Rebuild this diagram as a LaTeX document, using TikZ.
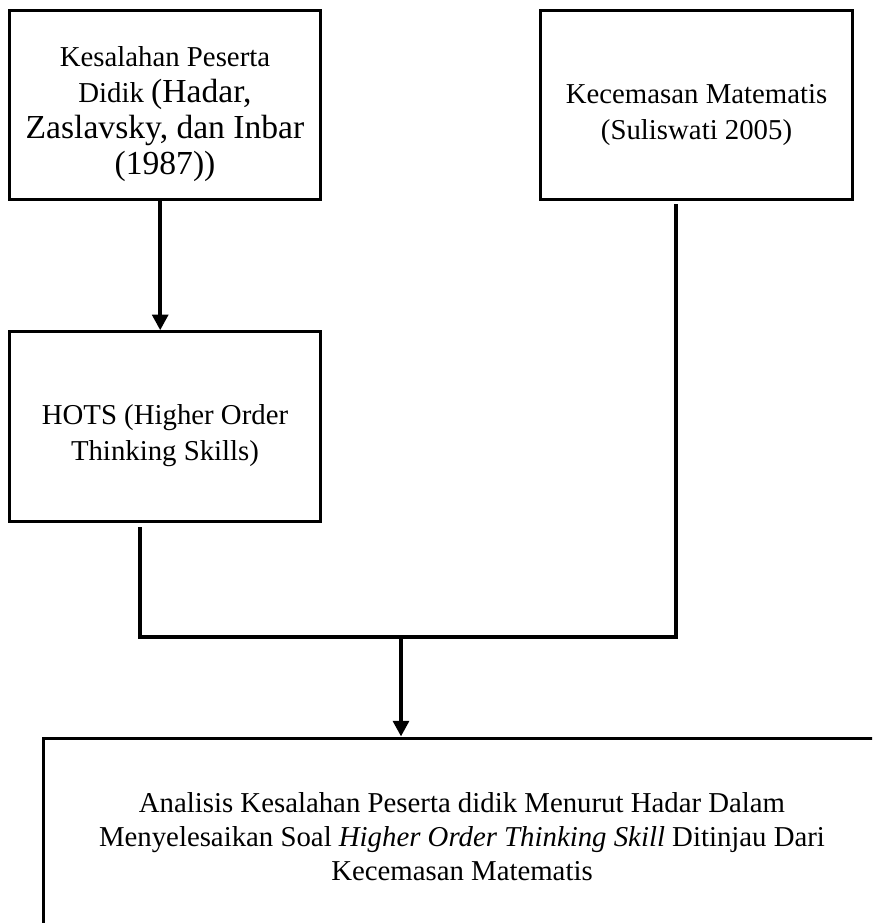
\documentclass[tikz,border=0pt]{standalone}
\usepackage{fontspec}
\setmainfont{Liberation Serif}
\usetikzlibrary{arrows.meta}
\newcommand\hadarsize{\fontsize{14}{15}\selectfont}
\newcommand\topgap{\rule{0pt}{16pt}}

\begin{document}
\begin{tikzpicture}[x=0.4167pt, y=-0.4167pt, node distance=2cm,
                    box/.style={rectangle,draw,line width=1.25pt,align=center,inner sep=0pt,
                                minimum width=130pt,minimum height=79pt,font=\fontsize{12}{15}\selectfont},
                    link/.style={line width=1.7pt},
                    arrow/.style={link,-{Triangle[width=6.5pt,length=6.5pt]}}]

  \path[use as bounding box, clip] (0,0) rectangle (872,923);

  \node[box] (kesalahan) at (165,105) {\topgap Kesalahan Peserta\\Didik {\hadarsize(Hadar,}\\{\hadarsize Zaslavsky, dan Inbar}\\{\hadarsize(1987))}};
  \node[box] (kecemasan) [right of=kesalahan, node distance=221.5pt] {\topgap Kecemasan Matematis\\(Suliswati 2005)};
  \node[box] (hots) [below of=kesalahan, node distance=134pt] {\topgap HOTS (Higher Order\\Thinking Skills)};
  \node[box,minimum width=349pt,minimum height=100pt] (analisis) at (462,858) {};
  \node[align=center,inner sep=0pt,font=\fontsize{12}{14.2}\selectfont] (analisistext) at (462,837)
    {Analisis Kesalahan Peserta didik Menurut Hadar Dalam\\Menyelesaikan Soal \textit{Higher Order Thinking Skill} Ditinjau Dari\\Kecemasan Matematis};

  % ends of the joining lines
  \coordinate (hotsout) at (140,527);
  \coordinate (kecout) at (676,204);
  \coordinate (join) at (401,637);

  \draw[arrow] ([xshift=-2pt]kesalahan.south) -- ([xshift=-2pt]hots.north);
  \draw[link] (hotsout) |- (join) -| (kecout);
  \draw[arrow] (join) -- (join |- analisis.north);

\end{tikzpicture}
\end{document}
